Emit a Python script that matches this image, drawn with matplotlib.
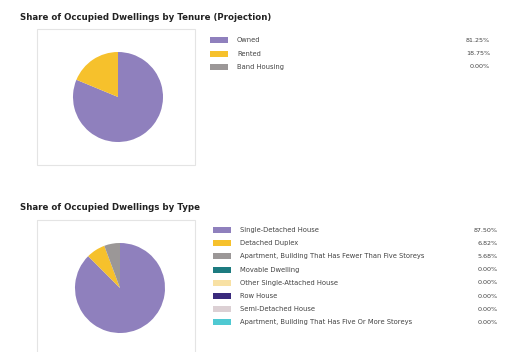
import matplotlib
matplotlib.use("Agg")
import matplotlib.pyplot as plt
from matplotlib.patches import Rectangle

# data
tenure_labels = ["Owned", "Rented", "Band Housing"]
tenure_values = [81.25, 18.75, 0.0]
tenure_colors = ["#8f80bd", "#f6c12c", "#9b9797"]

type_labels = ["Single-Detached House", "Detached Duplex",
               "Apartment, Building That Has Fewer Than Five Storeys",
               "Movable Dwelling", "Other Single-Attached House", "Row House",
               "Semi-Detached House", "Apartment, Building That Has Five Or More Storeys"]
type_values = [87.50, 6.82, 5.68, 0.0, 0.0, 0.0, 0.0, 0.0]
type_colors = ["#8f80bd", "#f6c12c", "#9b9797", "#1d7b80", "#f8e1a4",
               "#3a2a7c", "#dcd0d4", "#4fc9d2"]

W, H = 508, 352
fig = plt.figure(figsize=(W / 100, H / 100), dpi=100)
bg = fig.add_axes([0, 0, 1, 1])
bg.set_xlim(0, W)
bg.set_ylim(H, 0)
bg.axis("off")


def pie_axes(cx, cy, r):
    return fig.add_axes([(cx - r) / W, 1 - (cy + r) / H, 2 * r / W, 2 * r / H])


def section(title, ty, box, center, labels, values, colors, row0, dy, sx, tx, px):
    bg.text(20, ty, title, fontsize=6.2, fontweight="bold", va="center", color="#222222")
    x0, y0, x1, y1 = box
    bg.add_patch(Rectangle((x0, y0), x1 - x0, y1 - y0, fill=False,
                           edgecolor="#e4e4e4", linewidth=0.8))
    ax = pie_axes(center[0], center[1], 45)
    ax.pie(values, colors=colors, startangle=90, counterclock=False,
           wedgeprops=dict(linewidth=0))
    ax.set_xlim(-1.0, 1.0)
    ax.set_ylim(-1.0, 1.0)
    ax.set_aspect("equal")
    for i, (lab, val, col) in enumerate(zip(labels, values, colors)):
        y = row0 + i * dy
        bg.add_patch(Rectangle((sx, y - 3), 18, 6, facecolor=col, edgecolor="none"))
        bg.text(tx, y, lab, fontsize=4.9, va="center", color="#444444")
        bg.text(px, y, f"{val:.2f}%", fontsize=4.6, va="center", ha="right", color="#444444")


section("Share of Occupied Dwellings by Tenure (Projection)", 17,
        (37, 29, 195, 165), (118, 97), tenure_labels, tenure_values, tenure_colors,
        40, 13.5, 210, 237, 490)
section("Share of Occupied Dwellings by Type", 207,
        (37, 220, 195, 360), (120, 288), type_labels, type_values, type_colors,
        230, 13.2, 213, 240, 498)

fig.savefig("out.png", dpi=100)
